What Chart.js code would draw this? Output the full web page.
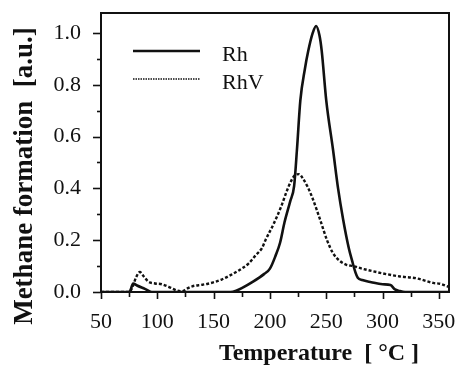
<!DOCTYPE html>
<html>
<head>
<meta charset="utf-8">
<title>Methane formation vs temperature</title>
<script src="https://cdn.jsdelivr.net/npm/chart.js@4/dist/chart.umd.min.js"></script>
<style>
  html, body { margin: 0; padding: 0; background: #fff; }
  #wrap { width: 455px; height: 371px; }
</style>
</head>
<body>
<div id="wrap"><canvas id="chart" width="455" height="371"></canvas></div>
<script>
/* ---------- Data ---------- */
const rhTemps = [50, 75, 76, 78.5, 82, 89, 95, 165, 170, 175, 185, 195, 200, 205, 209, 213, 218, 221.5, 224, 227, 231, 234, 238, 241, 244, 246, 250, 256, 260.5, 265, 270, 273, 276, 278, 282, 290, 300, 307, 311, 315, 320, 359];
const rhValues = [0, 0, 0.005, 0.033, 0.025, 0.012, 0, 0, 0.005, 0.015, 0.04, 0.07, 0.09, 0.14, 0.19, 0.27, 0.35, 0.41, 0.55, 0.74, 0.86, 0.93, 1.0, 1.027, 0.99, 0.93, 0.74, 0.55, 0.4, 0.28, 0.17, 0.12, 0.075, 0.055, 0.046, 0.038, 0.03, 0.027, 0.01, 0.004, 0, 0];

const rhvTemps = [50, 75, 78, 81, 84.5, 88, 92, 98, 104, 110, 114, 118, 122, 126, 131, 140, 145, 152, 157, 165, 173, 181, 188, 193, 196, 203, 210, 215, 219, 222, 226, 229, 233, 238, 244.5, 250.7, 256, 262, 268, 274, 282, 291.5, 300, 315.5, 330, 345, 351, 359];
const rhvValues = [0, 0, 0.02, 0.055, 0.077, 0.06, 0.04, 0.033, 0.03, 0.02, 0.012, 0.005, 0.003, 0.012, 0.022, 0.028, 0.032, 0.04, 0.048, 0.065, 0.085, 0.11, 0.145, 0.17, 0.2, 0.26, 0.33, 0.39, 0.43, 0.45, 0.455, 0.44, 0.41, 0.36, 0.28, 0.2, 0.15, 0.12, 0.105, 0.1, 0.09, 0.08, 0.072, 0.06, 0.053, 0.035, 0.032, 0.02];

const seriesLabels = ["Rh", "RhV"];
const xTickValues = [50, 100, 150, 200, 250, 300, 350];
const yTickLabels = ["0.0", "0.2", "0.4", "0.6", "0.8", "1.0"];
const xTitle = "Temperature  [ °C ]";
const yTitle = "Methane formation  [a.u.]";

/* ---------- Helpers ---------- */
const INK = "#111";
const SERIF = "'Liberation Serif', 'DejaVu Serif', serif";
const toPoints = (xs, ys) => xs.map((x, i) => ({ x, y: ys[i] }));
const noPad = (s) => { s.paddingTop = 0; s.paddingBottom = 0; s.paddingLeft = 0; s.paddingRight = 0; };

/* ---------- Plugin: frame, minor/major ticks, legend, axis titles ---------- */
const decorations = {
  id: "decorations",
  afterDraw(chart) {
    const { ctx, chartArea: a, scales } = chart;
    const xs = scales.x, ys = scales.y;
    ctx.save();
    ctx.strokeStyle = INK;
    ctx.fillStyle = INK;

    // box round the plot
    ctx.lineWidth = 2;
    ctx.strokeRect(a.left, a.top, a.right - a.left, a.bottom - a.top);

    // x ticks every 25, long ones at labels
    ctx.lineWidth = 1.6;
    for (let t = 50; t <= 350; t += 25) {
      const px = Math.round(xs.getPixelForValue(t)) + 0.5;
      const len = xTickValues.includes(t) ? 7 : 5;
      ctx.beginPath(); ctx.moveTo(px, a.bottom); ctx.lineTo(px, a.bottom + len); ctx.stroke();
    }
    // y ticks every 0.1
    for (let i = 0; i <= 10; i++) {
      const py = Math.round(ys.getPixelForValue(i / 10)) + 0.5;
      const len = i % 2 === 0 ? 8 : 4;
      ctx.beginPath(); ctx.moveTo(a.left, py); ctx.lineTo(a.left - len, py); ctx.stroke();
    }

    // legend
    const ds = chart.data.datasets;
    const lx0 = a.left + 32, lx1 = a.left + 99, tx = a.left + 121;
    const rows = [51, 79];
    ctx.font = `22px ${SERIF}`;
    ctx.textBaseline = "middle";
    ds.forEach((d, i) => {
      ctx.save();
      ctx.lineWidth = i === 0 ? 2.6 : 1.6;
      ctx.setLineDash(i === 0 ? [] : [1.5, 1]);
      ctx.beginPath(); ctx.moveTo(lx0, rows[i]); ctx.lineTo(lx1, rows[i]); ctx.stroke();
      ctx.restore();
      ctx.fillText(d.label, tx, rows[i] + 4);
    });

    // axis titles
    ctx.font = `bold 24px ${SERIF}`;
    ctx.textAlign = "center";
    ctx.textBaseline = "alphabetic";
    ctx.fillText(xTitle, 319, 360);
    ctx.save();
    ctx.translate(32, 176);
    ctx.rotate(-Math.PI / 2);
    ctx.font = `bold 27px ${SERIF}`;
    ctx.fillText(yTitle, 0, 0);
    ctx.restore();

    ctx.restore();
  }
};

/* ---------- Chart ---------- */
const ctx = document.getElementById("chart").getContext("2d");
new Chart(ctx, {
  type: "line",
  data: {
    datasets: [
      {
        label: seriesLabels[0],
        data: toPoints(rhTemps, rhValues),
        borderColor: INK,
        borderWidth: 2.6,
        pointRadius: 0,
        cubicInterpolationMode: "monotone"
      },
      {
        label: seriesLabels[1],
        data: toPoints(rhvTemps, rhvValues),
        borderColor: INK,
        borderWidth: 2.4,
        borderDash: [3, 2],
        pointRadius: 0,
        cubicInterpolationMode: "monotone"
      }
    ]
  },
  options: {
    responsive: false,
    animation: false,
    events: [],
    layout: { padding: { top: 13, right: 6, left: 0, bottom: 0 } },
    plugins: { legend: { display: false }, tooltip: { enabled: false } },
    scales: {
      x: {
        type: "linear",
        min: 50,
        max: 359,
        afterFit: (s) => { s.height = 79; noPad(s); },
        afterBuildTicks: (s) => { s.ticks = xTickValues.map(v => ({ value: v })); },
        grid: { display: false },
        border: { display: false },
        ticks: { color: INK, padding: 9, maxRotation: 0, font: { family: SERIF, size: 22 } }
      },
      y: {
        min: 0,
        max: 1.077,
        afterFit: (s) => { s.width = 101; noPad(s); },
        afterBuildTicks: (s) => { s.ticks = yTickLabels.map(v => ({ value: parseFloat(v) })); },
        grid: { display: false },
        border: { display: false },
        ticks: {
          color: INK, padding: 12,
          font: { family: SERIF, size: 22 },
          callback: (v) => yTickLabels.find(l => parseFloat(l) === v) ?? ""
        }
      }
    }
  },
  plugins: [decorations]
});
</script>
</body>
</html>
